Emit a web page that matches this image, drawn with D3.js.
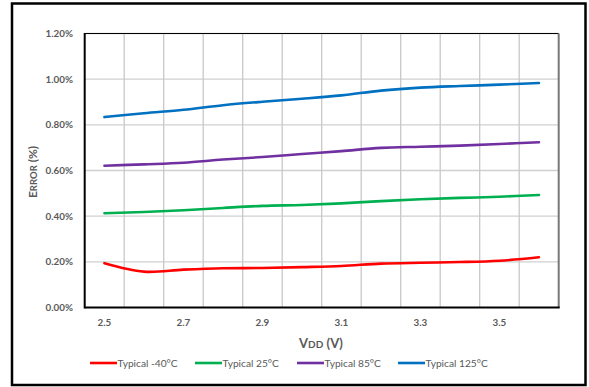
<!DOCTYPE html>
<html><head><meta charset="utf-8">
<script src="https://cdn.jsdelivr.net/npm/d3@7"></script>
<style>
body{margin:0;background:#fff;}
svg{display:block;font-family:Lato,"Open Sans",sans-serif;}
</style></head>
<body><svg id="c" width="589" height="387"></svg>
<script>
const categories = ["2.5","2.6","2.7","2.8","2.9","3.0","3.1","3.2","3.3","3.4","3.5","3.6"];
const tickLabels = ["2.5","2.7","2.9","3.1","3.3","3.5"];
const yTicks = [0, 0.2, 0.4, 0.6, 0.8, 1.0, 1.2];
const seriesNames = ["Typical -40°C","Typical 25°C","Typical 85°C","Typical 125°C"];
const seriesColors = ["#FF0000","#00B050","#7030A0","#0070C0"];
const valsM40 = [0.194,0.157,0.166,0.172,0.173,0.177,0.182,0.192,0.196,0.199,0.205,0.220];
const vals25  = [0.413,0.418,0.426,0.436,0.445,0.449,0.456,0.466,0.474,0.480,0.485,0.493];
const vals85  = [0.621,0.627,0.634,0.648,0.659,0.672,0.685,0.699,0.704,0.709,0.716,0.724];
const vals125 = [0.834,0.851,0.866,0.886,0.901,0.914,0.929,0.950,0.963,0.970,0.976,0.983];
const allSeries = [valsM40, vals25, vals85, vals125];

const svg = d3.select("#c");
const L = 84.7, R = 558.7, T = 33.5, B = 307.5;
const x = d3.scaleBand().domain(categories).range([L, R]);
const xc = d => x(d) + x.bandwidth()/2;
const y = d3.scaleLinear().domain([0, 1.2]).range([B, T]);

// outer frame
svg.append("rect").attr("x",12).attr("y",3.5).attr("width",573.5).attr("height",381.5)
  .attr("fill","none").attr("stroke","#000").attr("stroke-width",2.5);

// horizontal grid
svg.append("g").selectAll("line").data(yTicks.slice(1)).join("line")
  .attr("x1",L).attr("x2",R).attr("y1",d=>y(d)).attr("y2",d=>y(d))
  .attr("stroke","#d0d0d0").attr("stroke-width",1.3);
// vertical grid at category boundaries
svg.append("g").selectAll("line").data(categories.slice(1)).join("line")
  .attr("x1",d=>x(d)).attr("x2",d=>x(d)).attr("y1",T).attr("y2",B)
  .attr("stroke","#c8c8c8").attr("stroke-width",1.3);

// plot frame
svg.append("line").attr("x1",L).attr("x2",R).attr("y1",T).attr("y2",T).attr("stroke","#000").attr("stroke-width",1);
svg.append("line").attr("x1",R).attr("x2",R).attr("y1",T).attr("y2",B).attr("stroke","#777").attr("stroke-width",2);
svg.append("line").attr("x1",L).attr("x2",L).attr("y1",T-0.5).attr("y2",B+1).attr("stroke","#000").attr("stroke-width",2);
svg.append("line").attr("x1",L).attr("x2",R+1).attr("y1",B).attr("y2",B).attr("stroke","#000").attr("stroke-width",2);

// y tick labels
svg.append("g").selectAll("text").data(yTicks).join("text")
  .attr("x",73).attr("y",d=>y(d)).attr("dy","0.35em").attr("text-anchor","end")
  .attr("font-size",9.8).attr("font-weight","bold").attr("fill","#595959")
  .text(d=>d3.format(".2%")(d/100));

// x tick labels
svg.append("g").selectAll("text").data(tickLabels).join("text")
  .attr("x",d=>xc(d)).attr("y",322.5).attr("dy","0.35em").attr("text-anchor","middle")
  .attr("font-size",9.8).attr("font-weight","bold").attr("fill","#595959")
  .text(d=>d);

// axis titles
const yt = svg.append("text").attr("transform","translate(37,172) rotate(-90)")
  .attr("text-anchor","middle").attr("font-size",12).attr("font-weight","bold").attr("fill","#595959");
yt.append("tspan").text("E");
yt.append("tspan").attr("font-size",9.5).text("RROR");
yt.append("tspan").text(" (%)");

const xt = svg.append("text").attr("x",321).attr("y",347.5)
  .attr("text-anchor","middle").attr("font-size",13).attr("font-weight","bold").attr("fill","#595959");
xt.append("tspan").text("V");
xt.append("tspan").attr("font-size",10).text("DD");
xt.append("tspan").text(" (V)");

// lines
const line = d3.line().x((d,i)=>xc(categories[i])).y(d=>y(d)).curve(d3.curveCardinal.tension(0));
svg.append("g").selectAll("path").data(allSeries).join("path")
  .attr("d",d=>line(d)).attr("fill","none")
  .attr("stroke",(d,i)=>seriesColors[i]).attr("stroke-width",2.6).attr("stroke-linecap","round");

// legend
const legX = [90, 195, 297, 398];
const lg = svg.append("g").selectAll("g").data(seriesNames).join("g")
  .attr("transform",(d,i)=>`translate(${legX[i]},363)`);
lg.append("line").attr("x1",0).attr("x2",27).attr("y1",0).attr("y2",0)
  .attr("stroke",(d,i)=>seriesColors[i]).attr("stroke-width",2.6);
lg.append("text").attr("x",27.5).attr("dy","0.35em").attr("font-size",10.2).attr("fill","#595959").text(d=>d);
</script></body></html>
